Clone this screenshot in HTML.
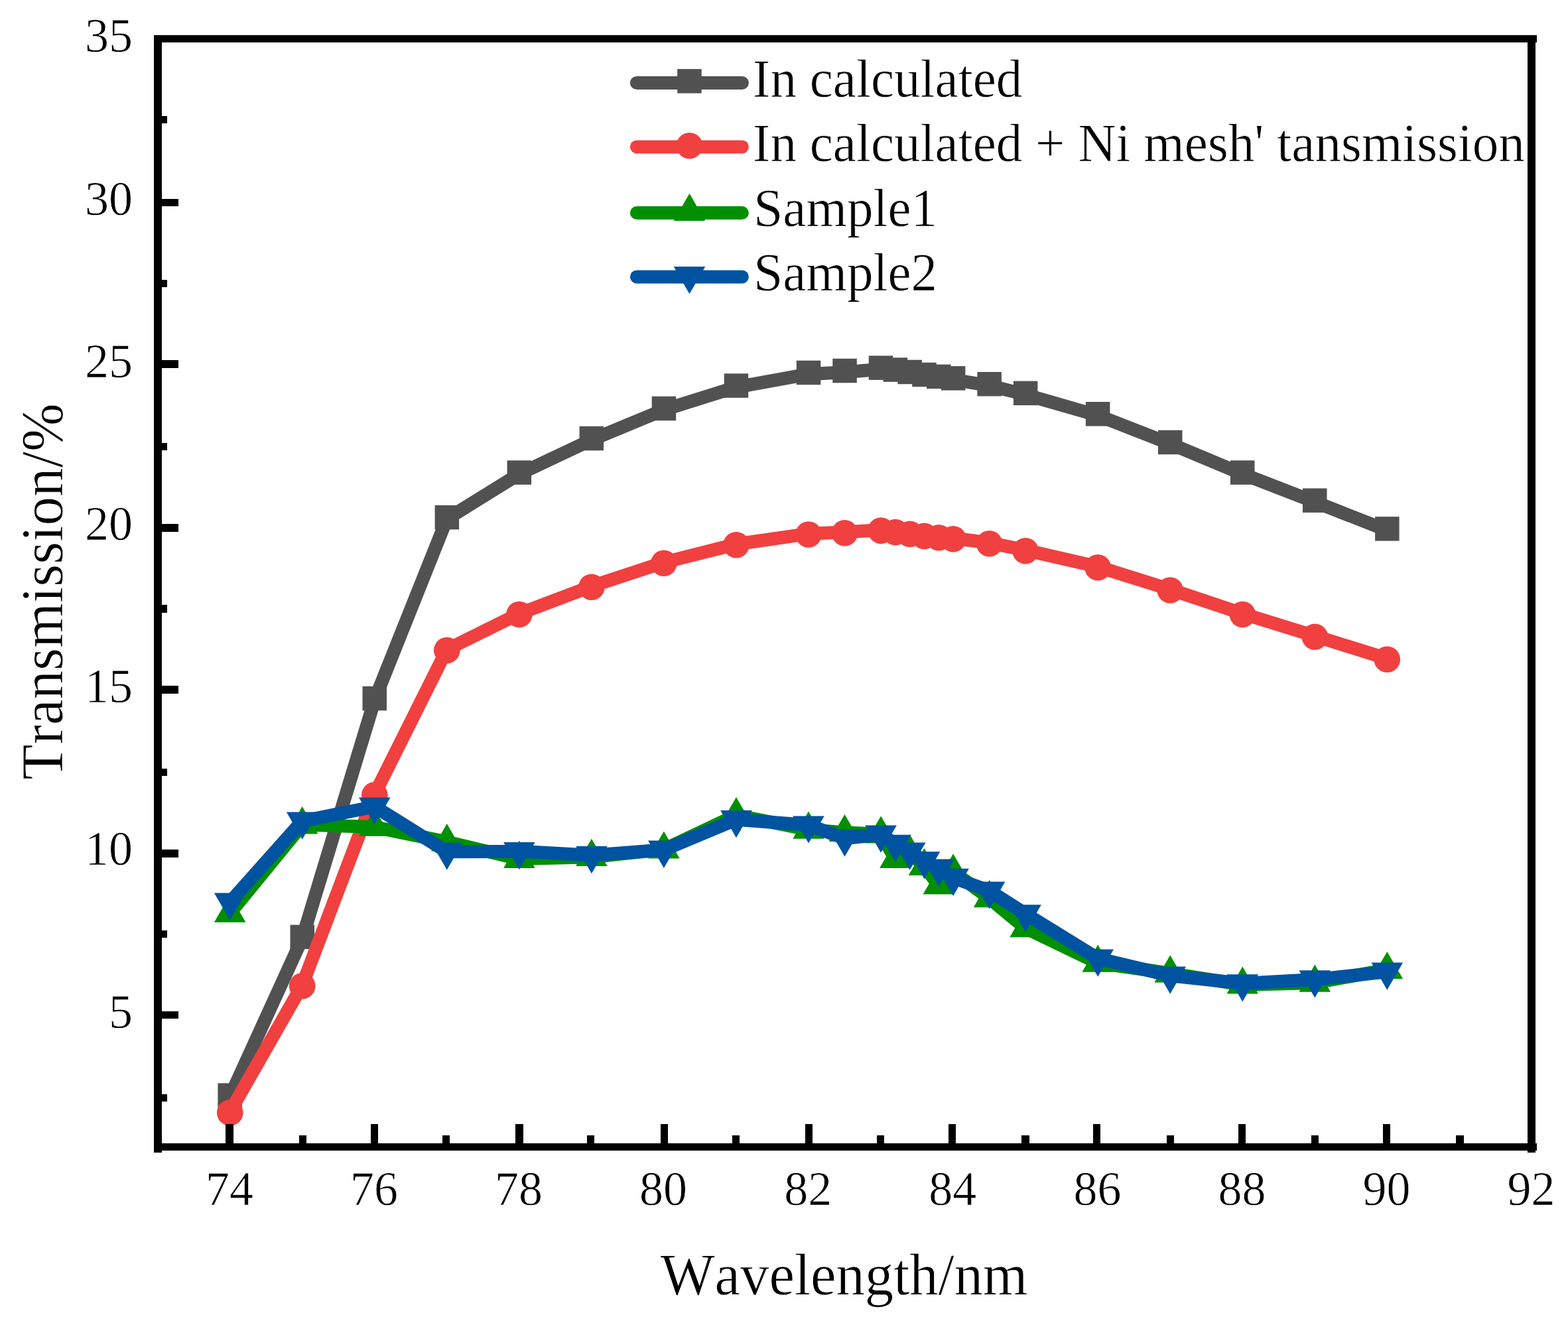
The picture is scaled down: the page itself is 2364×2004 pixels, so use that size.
<!DOCTYPE html>
<html lang="en"><head><meta charset="utf-8"><title>Transmission vs Wavelength</title>
<style>
html,body{margin:0;padding:0;background:#fff;}
body{width:2364px;height:2004px;overflow:hidden;}
svg{display:block;}
text{font-family:"Liberation Serif","DejaVu Serif",serif;fill:#000;stroke:#fff;stroke-width:0.7px;font-kerning:none;text-rendering:geometricPrecision;}
.tk{font-size:72px;}
.tt{font-size:86.7px;}
.lg{font-size:79.1px;}
</style></head><body>
<svg width="2364" height="2004" viewBox="0 0 2364 2004">
<rect x="0" y="0" width="2364" height="2004" fill="#fff"/>
<g fill="#515151" stroke="none">
<polyline points="346.7,1653.8 455.7,1415 564.8,1055.3 673.8,782.4 782.9,714.7 891.9,663.2 1000.9,618.1 1110,583.8 1219,564.2 1273.5,561.2 1328.1,556.8 1349.9,559.8 1371.7,563.2 1393.5,567.1 1415.3,570.1 1437.1,572.5 1491.6,581.3 1546.1,595.1 1655.2,626.5 1764.2,669.1 1873.3,714.7 1982.3,756.9 2091.3,799.6" fill="none" stroke="#515151" stroke-width="20" stroke-linejoin="round" stroke-linecap="round"/>
<rect x="328.4" y="1633.4" width="36.5" height="36.5"/>
<rect x="437.5" y="1394.6" width="36.5" height="36.5"/>
<rect x="546.5" y="1034.9" width="36.5" height="36.5"/>
<rect x="655.6" y="761.9" width="36.5" height="36.5"/>
<rect x="764.6" y="694.3" width="36.5" height="36.5"/>
<rect x="873.6" y="642.8" width="36.5" height="36.5"/>
<rect x="982.7" y="597.7" width="36.5" height="36.5"/>
<rect x="1091.7" y="563.3" width="36.5" height="36.5"/>
<rect x="1200.8" y="543.7" width="36.5" height="36.5"/>
<rect x="1255.3" y="540.8" width="36.5" height="36.5"/>
<rect x="1309.8" y="536.4" width="36.5" height="36.5"/>
<rect x="1331.6" y="539.3" width="36.5" height="36.5"/>
<rect x="1353.4" y="542.7" width="36.5" height="36.5"/>
<rect x="1375.2" y="546.7" width="36.5" height="36.5"/>
<rect x="1397" y="549.6" width="36.5" height="36.5"/>
<rect x="1418.9" y="552.1" width="36.5" height="36.5"/>
<rect x="1473.4" y="560.9" width="36.5" height="36.5"/>
<rect x="1527.9" y="574.6" width="36.5" height="36.5"/>
<rect x="1636.9" y="606" width="36.5" height="36.5"/>
<rect x="1746" y="648.7" width="36.5" height="36.5"/>
<rect x="1855" y="694.3" width="36.5" height="36.5"/>
<rect x="1964" y="736.4" width="36.5" height="36.5"/>
<rect x="2073.1" y="779.1" width="36.5" height="36.5"/>
</g>
<g fill="#F14040" stroke="none">
<polyline points="346.7,1676.6 455.7,1485.5 564.8,1197.7 673.8,979.4 782.9,925.3 891.9,884.1 1000.9,848 1110,820.5 1219,804.8 1273.5,802.5 1328.1,798.9 1349.9,801.3 1371.7,804 1393.5,807.2 1415.3,809.5 1437.1,811.5 1491.6,818.5 1546.1,829.5 1655.2,854.6 1764.2,888.8 1873.3,925.3 1982.3,959 2091.3,993.1" fill="none" stroke="#F14040" stroke-width="20" stroke-linejoin="round" stroke-linecap="round"/>
<circle cx="346.7" cy="1677.8" r="19.8"/>
<circle cx="455.7" cy="1486.7" r="19.8"/>
<circle cx="564.8" cy="1198.9" r="19.8"/>
<circle cx="673.8" cy="980.6" r="19.8"/>
<circle cx="782.9" cy="926.5" r="19.8"/>
<circle cx="891.9" cy="885.3" r="19.8"/>
<circle cx="1000.9" cy="849.2" r="19.8"/>
<circle cx="1110" cy="821.7" r="19.8"/>
<circle cx="1219" cy="806" r="19.8"/>
<circle cx="1273.5" cy="803.7" r="19.8"/>
<circle cx="1328.1" cy="800.1" r="19.8"/>
<circle cx="1349.9" cy="802.5" r="19.8"/>
<circle cx="1371.7" cy="805.2" r="19.8"/>
<circle cx="1393.5" cy="808.4" r="19.8"/>
<circle cx="1415.3" cy="810.7" r="19.8"/>
<circle cx="1437.1" cy="812.7" r="19.8"/>
<circle cx="1491.6" cy="819.7" r="19.8"/>
<circle cx="1546.1" cy="830.7" r="19.8"/>
<circle cx="1655.2" cy="855.8" r="19.8"/>
<circle cx="1764.2" cy="890" r="19.8"/>
<circle cx="1873.3" cy="926.5" r="19.8"/>
<circle cx="1982.3" cy="960.2" r="19.8"/>
<circle cx="2091.3" cy="994.3" r="19.8"/>
</g>
<g fill="#029002" stroke="none">
<polyline points="346.7,1377 455.7,1243.6 564.8,1247.1 673.8,1269.6 782.9,1295.1 891.9,1292.2 1000.9,1280.9 1110,1229.4 1219,1251 1273.5,1255.4 1328.1,1257.8 1349.9,1295.1 1371.7,1285.8 1393.5,1306.4 1415.3,1334.8 1437.1,1314.7 1491.6,1354.5 1546.1,1399.6 1655.2,1452 1764.2,1467.7 1873.3,1484.9 1982.3,1482 2091.3,1462.3" fill="none" stroke="#029002" stroke-width="20" stroke-linejoin="round" stroke-linecap="round"/>
<polygon points="346.7,1349.5 322.9,1390.8 370.5,1390.8"/>
<polygon points="455.7,1216.1 431.9,1257.4 479.5,1257.4"/>
<polygon points="564.8,1219.6 541,1260.8 588.6,1260.8"/>
<polygon points="673.8,1242.1 650,1283.4 697.6,1283.4"/>
<polygon points="782.9,1267.6 759.1,1308.9 806.7,1308.9"/>
<polygon points="891.9,1264.7 868.1,1305.9 915.7,1305.9"/>
<polygon points="1000.9,1253.4 977.1,1294.6 1024.7,1294.6"/>
<polygon points="1110,1201.9 1086.2,1243.1 1133.8,1243.1"/>
<polygon points="1219,1223.5 1195.2,1264.7 1242.8,1264.7"/>
<polygon points="1273.5,1227.9 1249.7,1269.1 1297.3,1269.1"/>
<polygon points="1328.1,1230.4 1304.3,1271.6 1351.9,1271.6"/>
<polygon points="1349.9,1267.6 1326.1,1308.9 1373.7,1308.9"/>
<polygon points="1371.7,1258.3 1347.9,1299.5 1395.5,1299.5"/>
<polygon points="1393.5,1278.9 1369.7,1320.1 1417.3,1320.1"/>
<polygon points="1415.3,1307.4 1391.5,1348.6 1439.1,1348.6"/>
<polygon points="1437.1,1287.3 1413.3,1328.5 1460.9,1328.5"/>
<polygon points="1491.6,1327 1467.8,1368.2 1515.4,1368.2"/>
<polygon points="1546.1,1372.1 1522.3,1413.3 1569.9,1413.3"/>
<polygon points="1655.2,1424.6 1631.4,1465.8 1679,1465.8"/>
<polygon points="1764.2,1440.3 1740.4,1481.5 1788,1481.5"/>
<polygon points="1873.3,1457.4 1849.5,1498.6 1897.1,1498.6"/>
<polygon points="1982.3,1454.5 1958.5,1495.7 2006.1,1495.7"/>
<polygon points="2091.3,1434.9 2067.5,1476.1 2115.1,1476.1"/>
</g>
<g fill="#0053A0" stroke="none">
<polyline points="346.7,1360.3 455.7,1238.2 564.8,1216.2 673.8,1284.3 782.9,1283.8 891.9,1289.7 1000.9,1281.4 1110,1235.8 1219,1244.1 1273.5,1264.2 1328.1,1258.3 1349.9,1272.6 1371.7,1284.3 1393.5,1298.1 1415.3,1309.3 1437.1,1323.6 1491.6,1343.2 1546.1,1378 1655.2,1445.2 1764.2,1471.2 1873.3,1482.9 1982.3,1477.1 2091.3,1465.3" fill="none" stroke="#0053A0" stroke-width="20" stroke-linejoin="round" stroke-linecap="round"/>
<polygon points="346.7,1387.8 322.9,1346.6 370.5,1346.6"/>
<polygon points="455.7,1265.7 431.9,1224.5 479.5,1224.5"/>
<polygon points="564.8,1243.6 541,1202.4 588.6,1202.4"/>
<polygon points="673.8,1311.8 650,1270.6 697.6,1270.6"/>
<polygon points="782.9,1311.3 759.1,1270.1 806.7,1270.1"/>
<polygon points="891.9,1317.2 868.1,1276 915.7,1276"/>
<polygon points="1000.9,1308.9 977.1,1267.6 1024.7,1267.6"/>
<polygon points="1110,1263.3 1086.2,1222 1133.8,1222"/>
<polygon points="1219,1271.6 1195.2,1230.4 1242.8,1230.4"/>
<polygon points="1273.5,1291.7 1249.7,1250.5 1297.3,1250.5"/>
<polygon points="1328.1,1285.8 1304.3,1244.6 1351.9,1244.6"/>
<polygon points="1349.9,1300 1326.1,1258.8 1373.7,1258.8"/>
<polygon points="1371.7,1311.8 1347.9,1270.6 1395.5,1270.6"/>
<polygon points="1393.5,1325.5 1369.7,1284.3 1417.3,1284.3"/>
<polygon points="1415.3,1336.8 1391.5,1295.6 1439.1,1295.6"/>
<polygon points="1437.1,1351 1413.3,1309.8 1460.9,1309.8"/>
<polygon points="1491.6,1370.7 1467.8,1329.4 1515.4,1329.4"/>
<polygon points="1546.1,1405.5 1522.3,1364.3 1569.9,1364.3"/>
<polygon points="1655.2,1472.7 1631.4,1431.4 1679,1431.4"/>
<polygon points="1764.2,1498.7 1740.4,1457.4 1788,1457.4"/>
<polygon points="1873.3,1510.4 1849.5,1469.2 1897.1,1469.2"/>
<polygon points="1982.3,1504.5 1958.5,1463.3 2006.1,1463.3"/>
<polygon points="2091.3,1492.8 2067.5,1451.5 2115.1,1451.5"/>
</g>
<g fill="#000" shape-rendering="crispEdges">
<rect x="232.4" y="53" width="11.6" height="1684.8"/>
<rect x="2303.2" y="53" width="11.4" height="1684.8"/>
<rect x="232.4" y="53" width="2084.8" height="11"/>
<rect x="232.4" y="1724" width="2084.8" height="11"/>
<rect x="340.2" y="1695.2" width="11.3" height="29.8"/>
<rect x="451" y="1712.3" width="11.3" height="12.7"/>
<rect x="558.6" y="1695.2" width="11.3" height="29.8"/>
<rect x="666.6" y="1712.3" width="11.3" height="12.7"/>
<rect x="777.4" y="1695.2" width="11.3" height="29.8"/>
<rect x="885.1" y="1712.3" width="11.3" height="12.7"/>
<rect x="995.6" y="1695.2" width="11.3" height="29.8"/>
<rect x="1103.6" y="1712.3" width="11.3" height="12.7"/>
<rect x="1213.9" y="1695.2" width="11.3" height="29.8"/>
<rect x="1321.8" y="1712.3" width="11.3" height="12.7"/>
<rect x="1429.5" y="1695.2" width="11.3" height="29.8"/>
<rect x="1540.2" y="1712.3" width="11.3" height="12.7"/>
<rect x="1648" y="1695.2" width="11.3" height="29.8"/>
<rect x="1758.5" y="1712.3" width="11.3" height="12.7"/>
<rect x="1866.5" y="1695.2" width="11.3" height="29.8"/>
<rect x="1977.1" y="1712.3" width="11.3" height="12.7"/>
<rect x="2084.8" y="1695.2" width="11.3" height="29.8"/>
<rect x="2195.4" y="1712.3" width="11.3" height="12.7"/>
<rect x="243" y="174.8" width="9.4" height="11.3"/>
<rect x="243" y="299.5" width="26.4" height="11.3"/>
<rect x="243" y="421.5" width="9.4" height="11.3"/>
<rect x="243" y="543.4" width="26.4" height="11.3"/>
<rect x="243" y="667.9" width="9.4" height="11.3"/>
<rect x="243" y="790.2" width="26.4" height="11.3"/>
<rect x="243" y="912.2" width="9.4" height="11.3"/>
<rect x="243" y="1034.3" width="26.4" height="11.3"/>
<rect x="243" y="1158.8" width="9.4" height="11.3"/>
<rect x="243" y="1281.2" width="26.4" height="11.3"/>
<rect x="243" y="1403" width="9.4" height="11.3"/>
<rect x="243" y="1525.1" width="26.4" height="11.3"/>
<rect x="243" y="1649.8" width="9.4" height="11.3"/>
</g>
<g class="tk" text-anchor="middle">
<text class="tk" transform="translate(345.9,1817.3) scale(1,1.015)">74</text>
<text class="tk" transform="translate(564,1817.3) scale(1,1.015)">76</text>
<text class="tk" transform="translate(782.1,1817.3) scale(1,1.015)">78</text>
<text class="tk" transform="translate(1000.1,1817.3) scale(1,1.015)">80</text>
<text class="tk" transform="translate(1218.2,1817.3) scale(1,1.015)">82</text>
<text class="tk" transform="translate(1436.3,1817.3) scale(1,1.015)">84</text>
<text class="tk" transform="translate(1654.4,1817.3) scale(1,1.015)">86</text>
<text class="tk" transform="translate(1872.5,1817.3) scale(1,1.015)">88</text>
<text class="tk" transform="translate(2090.5,1817.3) scale(1,1.015)">90</text>
<text class="tk" transform="translate(2308.6,1817.3) scale(1,1.015)">92</text>
</g>
<g class="tk" text-anchor="end">
<text class="tk" transform="translate(200,1549.6) scale(1,1.015)">5</text>
<text class="tk" transform="translate(200,1304.4) scale(1,1.015)">10</text>
<text class="tk" transform="translate(200,1059.2) scale(1,1.015)">15</text>
<text class="tk" transform="translate(200,814) scale(1,1.015)">20</text>
<text class="tk" transform="translate(200,568.8) scale(1,1.015)">25</text>
<text class="tk" transform="translate(200,323.6) scale(1,1.015)">30</text>
<text class="tk" transform="translate(200,78.4) scale(1,1.015)">35</text>
</g>
<text class="tt" text-anchor="middle" transform="translate(1272.6,1952) scale(1,1.03)">Wavelength/nm</text>
<text class="tt" text-anchor="middle" style="font-size:87.3px" transform="translate(93.5,892) rotate(-90) scale(1,1.03)">Transmission/%</text>
<g fill="#515151">
<line x1="959.9" y1="124.9" x2="1118.9" y2="124.9" stroke="#515151" stroke-width="20" stroke-linecap="round"/>
<rect x="1021.2" y="104.1" width="36.5" height="36.5"/>
</g>
<text class="lg" transform="translate(1135.1,146) scale(1,1.03)">In calculated</text>
<g fill="#F14040">
<line x1="959.9" y1="221.4" x2="1118.9" y2="221.4" stroke="#F14040" stroke-width="20" stroke-linecap="round"/>
<circle cx="1039.5" cy="219.8" r="19.8"/>
</g>
<text class="lg" transform="translate(1135.1,242.6) scale(1,1.03)">In calculated + Ni mesh' tansmission</text>
<g fill="#029002">
<line x1="959.9" y1="321" x2="1118.9" y2="321" stroke="#029002" stroke-width="20" stroke-linecap="round"/>
<polygon points="1039.5,291.8 1015.7,333 1063.3,333"/>
</g>
<text class="lg" transform="translate(1136.3,341.2) scale(1,1.03)">Sample1</text>
<g fill="#0053A0">
<line x1="959.9" y1="417.4" x2="1118.9" y2="417.4" stroke="#0053A0" stroke-width="20" stroke-linecap="round"/>
<polygon points="1039.5,443.3 1015.7,402.1 1063.3,402.1"/>
</g>
<text class="lg" transform="translate(1136.3,438) scale(1,1.03)">Sample2</text>
</svg>
</body></html>
